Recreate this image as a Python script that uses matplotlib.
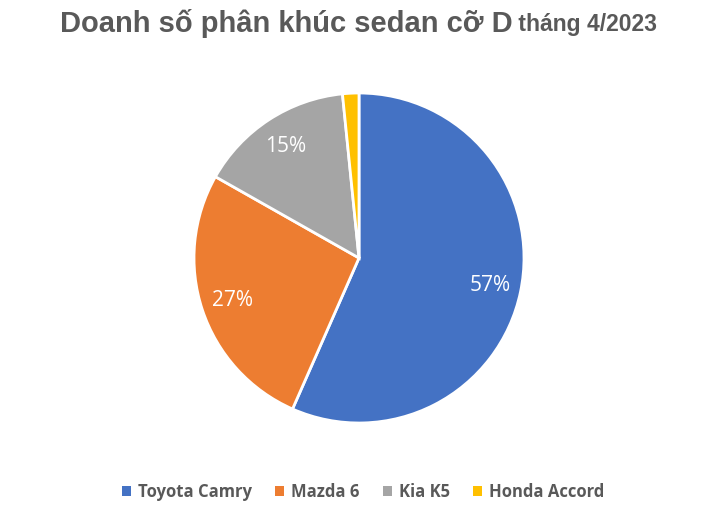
import matplotlib
matplotlib.use("Agg")
import matplotlib.pyplot as plt

# data - sales share, April 2023, D-segment sedans
brands = ["Toyota Camry", "Mazda 6", "Kia K5", "Honda Accord"]
shares = [56.6, 26.6, 15.2, 1.6]
colors = ["#4472C4", "#ED7D31", "#A5A5A5", "#FFC000"]

title_main = "Doanh số phân khúc sedan cỡ D"
title_tail = " tháng 4/2023"

W, H = 711, 511
fig = plt.figure(figsize=(W / 100, H / 100), dpi=100)
fig.patch.set_facecolor("white")

# pie box in pixels: center (359, 258), radius 165
cx, cy, r = 359, 258, 165
ax = fig.add_axes([(cx - r) / W, (H - cy - r) / H, 2 * r / W, 2 * r / H])

def pct(p):
    return "" if p < 5 else "%.0f%%" % p

wedges, texts, autotexts = ax.pie(
    shares, colors=colors, startangle=90, counterclock=False,
    autopct=pct, pctdistance=0.81, radius=1,
    wedgeprops=dict(edgecolor="white", linewidth=2),
    textprops=dict(color="white", fontsize=15, family=["Open Sans", "DejaVu Sans"]))
ax.set_xlim(-1.0, 1.0)
ax.set_ylim(-1.0, 1.0)
ax.set_aspect("equal")

# title, two sizes
tfam = ["Liberation Sans", "DejaVu Sans"]
t1 = fig.text(0, 1 - 24 / H, title_main, fontsize=21, fontweight="bold",
              color="#595959", family=tfam, va="center", ha="left")
t2 = fig.text(0, 1 - 25 / H, title_tail, fontsize=16.5, fontweight="bold",
              color="#595959", family=tfam, va="center", ha="left")
rend = fig.canvas.get_renderer()
w1 = t1.get_window_extent(rend).width
w2 = t2.get_window_extent(rend).width
x0 = (W / 2 - (w1 + w2) / 2 + 3)
t1.set_x(x0 / W)
t2.set_x((x0 + w1) / W)

leg = fig.legend(wedges, brands, loc="center", bbox_to_anchor=(363 / W, 1 - 492 / H),
                 ncol=4, frameon=False, handlelength=0.55, handleheight=0.55,
                 handletextpad=0.4, columnspacing=1.4,
                 prop=dict(family=["Open Sans", "DejaVu Sans"], weight="bold", size=12))
for t in leg.get_texts():
    t.set_color("#595959")
for h in leg.legend_handles:
    h.set_edgecolor("none")

fig.savefig("out.png", dpi=100, facecolor="white")
